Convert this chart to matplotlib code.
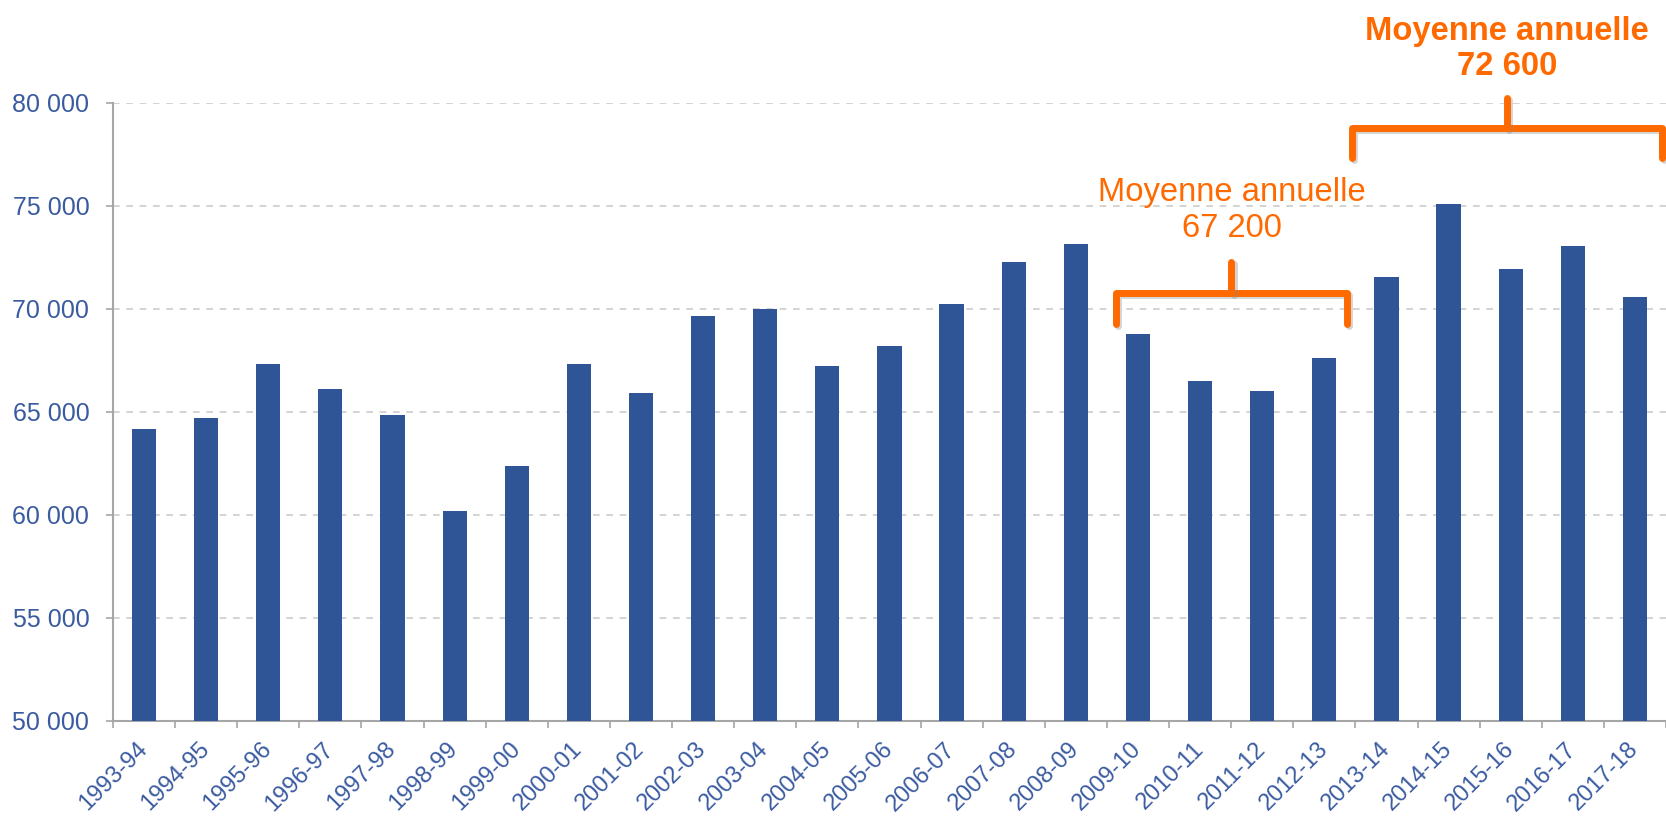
"""Bar chart of annual totals 1993-94 to 2017-18 with two average brackets."""

import matplotlib

matplotlib.use("Agg")
import matplotlib.patheffects as pe
import matplotlib.pyplot as plt
import numpy as np
from matplotlib.ticker import FixedLocator, FuncFormatter

seasons = [
    "1993-94", "1994-95", "1995-96", "1996-97", "1997-98", "1998-99", "1999-00",
    "2000-01", "2001-02", "2002-03", "2003-04", "2004-05", "2005-06", "2006-07",
    "2007-08", "2008-09", "2009-10", "2010-11", "2011-12", "2012-13", "2013-14",
    "2014-15", "2015-16", "2016-17", "2017-18",
]
values = [
    64170, 64710, 67330, 66100, 64870, 60190, 62390,
    67350, 65920, 69640, 70020, 67240, 68180, 70220,
    72260, 73170, 68790, 66520, 66020, 67610, 71560,
    75100, 71940, 73070, 70590,
]
y_ticks = [50000, 55000, 60000, 65000, 70000, 75000, 80000]

# average groups: (first season, last season, label, bold)
groups = [
    ("2009-10", "2012-13", "Moyenne annuelle\n67 200", False),
    ("2013-14", "2017-18", "Moyenne annuelle\n72 600", True),
]

BAR_COLOR = "#2F5597"
ORANGE = "#FF6A00"
LABEL_COLOR = "#3A5BA0"
AXIS_COLOR = "#A6A6A6"

plt.rcParams["font.family"] = ["Liberation Sans", "DejaVu Sans"]

fig = plt.figure(figsize=(16.66, 8.18), dpi=100)
ax = fig.add_axes([0.0678, 0.1186, 0.9322, 0.7555])

x = np.arange(len(seasons))
ax.bar(x, values, width=0.39, color=BAR_COLOR, zorder=3)

ax.set_xlim(-0.5, len(seasons) - 0.5)
ax.set_ylim(y_ticks[0], y_ticks[-1])
ax.set_yticks(y_ticks)
ax.yaxis.set_major_formatter(FuncFormatter(lambda v, _: f"{v:,.0f}".replace(",", " ")))
ax.grid(True, axis="y", color="#CCCCCC", linewidth=1.2, linestyle=(0, (4, 4)), zorder=0)

ax.set_xticks(x)
ax.set_xticklabels(seasons, rotation=45, ha="right", va="center", rotation_mode="anchor")
ax.xaxis.set_minor_locator(FixedLocator(np.arange(-0.5, len(seasons), 1.0)))
ax.tick_params(axis="x", which="major", length=0, pad=18, labelsize=17, labelcolor=LABEL_COLOR)
ax.tick_params(axis="x", which="minor", length=5, width=1.2, color=AXIS_COLOR)
ax.tick_params(axis="y", length=5, width=1.2, color=AXIS_COLOR, pad=12,
               labelsize=18, labelcolor=LABEL_COLOR)

for side in ("top", "right"):
    ax.spines[side].set_visible(False)
for side in ("left", "bottom"):
    ax.spines[side].set_color(AXIS_COLOR)
    ax.spines[side].set_linewidth(1.5)

# brackets: (left offset, right offset, bar level, tip drop, stem rise, text centre y)
bracket_style = [
    (-0.35, 0.36, 70780, 1500, 1500, 74800),
    (-0.55, 0.44, 78790, 1460, 1450, 82620),
]
shadow = [pe.SimpleLineShadow(offset=(1.5, -1.5), shadow_color="#888888", alpha=0.35), pe.Normal()]
for (first, last, label, bold), (lo, ro, yh, drop, rise, ty) in zip(groups, bracket_style):
    i0, i1 = seasons.index(first), seasons.index(last)
    x0, x1 = i0 + lo, i1 + ro
    xc = (x0 + x1) / 2
    kw = dict(color=ORANGE, linewidth=5, solid_capstyle="round",
              solid_joinstyle="round", clip_on=False, zorder=5, path_effects=shadow)
    ax.plot([x0, x0, x1, x1], [yh - drop, yh, yh, yh - drop], **kw)
    ax.plot([xc, xc], [yh, yh + rise], **kw)
    ax.text(xc, ty, label, ha="center", va="center", fontsize=23.6, color=ORANGE,
            fontweight="bold" if bold else "normal", linespacing=1.2)

fig.savefig("out.png", dpi=100)
